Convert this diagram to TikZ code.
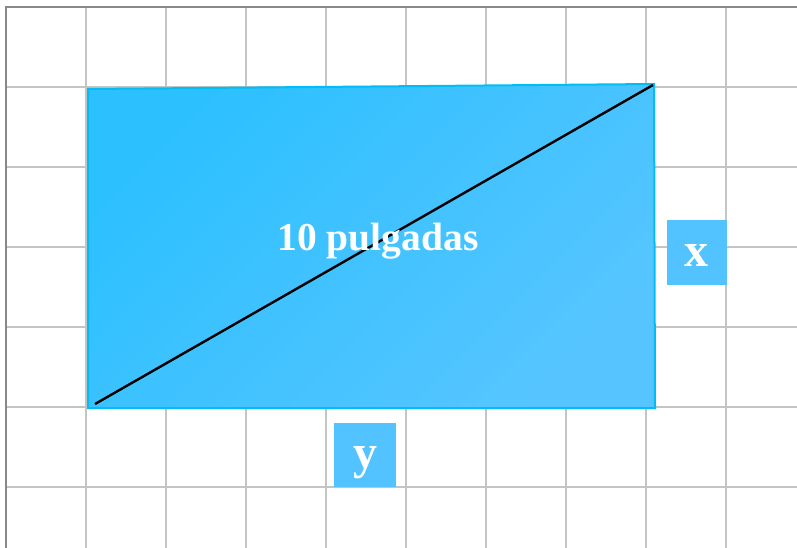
\documentclass[tikz,border=0pt]{standalone}
\usepackage{fontspec}
\setmainfont{Liberation Serif}
\usetikzlibrary{positioning, calc}

\definecolor{gridgray}{HTML}{C4C4C4}
\definecolor{framegray}{HTML}{888888}
\definecolor{rectblueA}{HTML}{2DC0FF}
\definecolor{rectblueB}{HTML}{56C5FF}
\definecolor{rectedge}{HTML}{00BEF5}
\definecolor{tagblue}{HTML}{52C3FF}

\tikzset{
    tagbox/.style={fill=tagblue, inner sep=0pt},
    tagtext/.style={text=white, font=\fontsize{48}{48}\selectfont\bfseries, inner sep=0pt}
}

\begin{document}
\begin{tikzpicture}[x=1pt, y=-1pt]
    \useasboundingbox (0,0) rectangle (797,548);

    % Grid
    \foreach \gx in {1,...,9}
        \draw[gridgray, line width=2.6pt] (6+80*\gx,7) -- (6+80*\gx,548);
    \foreach \gy in {1,...,6}
        \draw[gridgray, line width=2.6pt] (6,7+80*\gy) -- (797,7+80*\gy);
    \draw[framegray, line width=2.8pt] (6,548) -- (6,7) -- (797,7);

    % Rectangle
    \shade[top color=rectblueA, bottom color=rectblueB, shading angle=45]
        (88,89) -- (654,84) -- (655,408) -- (88,408) -- cycle;
    \draw[rectedge, line width=2pt] (88,89) -- (654,84) -- (655,408) -- (88,408) -- cycle;

    % Diagonal
    \coordinate (lowleft) at (95,404);
    \coordinate (upright) at (653,85);
    \draw[black, line width=2.4pt] (lowleft) -- (upright);

    % Length label
    \node[text=white, font=\fontsize{39.5}{40}\selectfont\bfseries, inner sep=0pt, anchor=base]
        (diaglabel) at (378,250) {10 pulgadas};

    % Side tags
    \node[tagbox, minimum width=60pt, minimum height=65pt] (xbox) at (697,252.5) {};
    \node[tagtext, anchor=base] (xlabel) at (696,266) {x};
    \node[tagbox, minimum width=62pt, minimum height=64pt] (ybox) at (365,455) {};
    \node[tagtext, anchor=base] (ylabel) at (365,468) {y};
\end{tikzpicture}
\end{document}
